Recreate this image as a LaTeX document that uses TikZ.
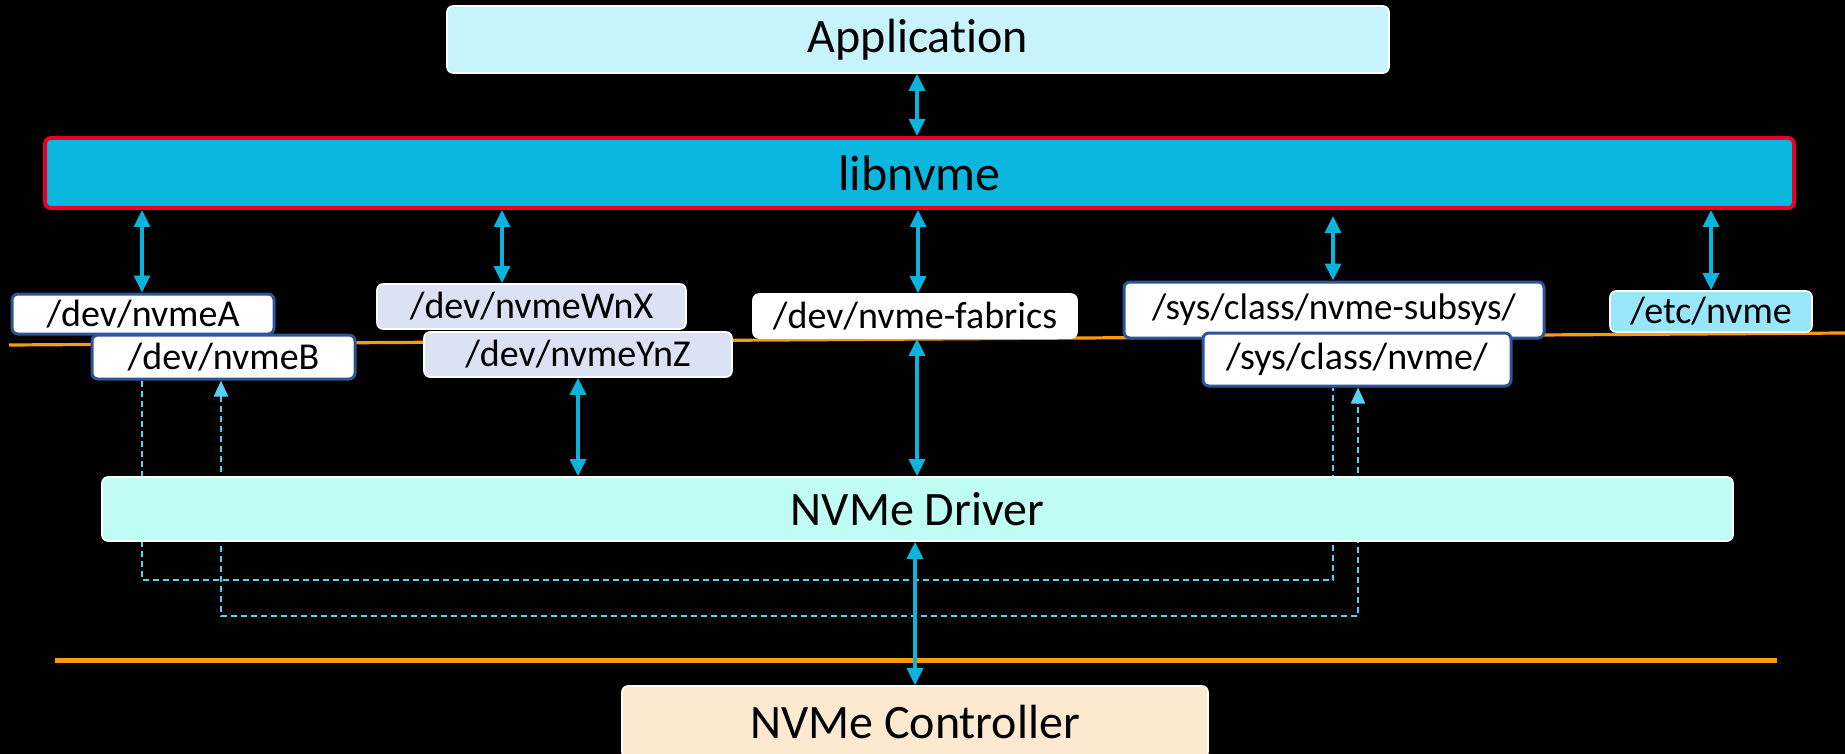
\documentclass[tikz,border=0pt]{standalone}
\usepackage{fontspec}
\setmainfont{Carlito}[Ligatures={NoCommon,NoContextual}]
\usetikzlibrary{arrows.meta}
\definecolor{appc}{HTML}{C8F2FC}
\definecolor{libc}{HTML}{0BB7DF}
\definecolor{libred}{HTML}{E8002A}
\definecolor{devgray}{HTML}{DAE2F3}
\definecolor{etcc}{HTML}{97E6FA}
\definecolor{drvc}{HTML}{BFFCF3}
\definecolor{ctrlc}{HTML}{FDE9CF}
\definecolor{bluebd}{HTML}{2F5597}
\definecolor{arrowc}{HTML}{0AB4DC}
\definecolor{dashc}{HTML}{55D1F2}
\definecolor{orangec}{HTML}{F99B0C}
\tikzset{
  box/.style={rounded corners=3pt, inner sep=0pt, text=black, font=\fontsize{24pt}{28pt}\selectfont},
  lbl/.style={box, font=\fontsize{19pt}{22pt}\selectfont},
  whitebd/.style={draw=white, line width=0.8pt},
  bluebox/.style={lbl, fill=white, draw=bluebd, line width=1.5pt},
  biarrow/.style={draw=arrowc, line width=1.7pt, {Triangle[length=8.5pt,width=8pt]}-{Triangle[length=8.5pt,width=8pt]}},
  dashline/.style={draw=dashc, line width=1.2pt, dash pattern=on 3pt off 2pt}
}
\begin{document}
\begin{tikzpicture}[x=0.5pt,y=-0.5pt]
\fill[black] (0,0) rectangle (1845,754);
\useasboundingbox (0,0) rectangle (1845,754);
% boundary lines
\draw[orangec, line width=1.6pt] (9,345) -- (1845,333);
\draw[orangec, line width=2.5pt] (55,660) -- (1777,660);
% top layers
\node[box, whitebd, fill=appc, minimum width=471pt, minimum height=33.5pt] (app) at (918,39.5) {Application};
\node[box, fill=libc, draw=libred, line width=2pt, minimum width=874.5pt, minimum height=35pt, font=\fontsize{25pt}{29pt}\selectfont] (lib) at (919.5,173) {libnvme};
% device / file nodes
\node[bluebox, minimum width=131pt, minimum height=20pt] (A) at (143,314) {/dev/nvmeA};
\node[bluebox, minimum width=131.5pt, minimum height=22pt] (B) at (223.5,357) {/dev/nvmeB};
\node[lbl, whitebd, fill=devgray, minimum width=154.5pt, minimum height=22.5pt] (WnX) at (531.5,306.5) {/dev/nvmeWnX};
\node[lbl, whitebd, fill=devgray, minimum width=154pt, minimum height=22.5pt] (YnZ) at (578,354.5) {/dev/nvmeYnZ};
\node[lbl, whitebd, fill=white, minimum width=162pt, minimum height=22pt] (fab) at (915,316) {/dev/nvme-fabrics};
\node[bluebox, minimum width=210pt, minimum height=28pt, font=\fontsize{18.5pt}{22pt}\selectfont] (subsys) at (1334,310) {/sys/class/nvme-subsys/};
\node[bluebox, minimum width=154pt, minimum height=26.5pt] (sysnvme) at (1357,359.5) {/sys/class/nvme/};
\node[lbl, whitebd, fill=etcc, minimum width=101pt, minimum height=20.5pt] (etc) at (1711,311.5) {/etc/nvme};
% dashed sysfs paths (behind the driver box)
\draw[dashline] (B.south -| 142,0) -- (142,580) -- (1333,580) -- (sysnvme.south -| 1333,0);
\draw[dashline, {Triangle[length=8pt,width=7pt]}-{Triangle[length=8pt,width=7pt]}] (B.south -| 221,0) -- (221,616) -- (1358,616) -- (sysnvme.south -| 1358,0);
% driver and controller
\node[box, whitebd, fill=drvc, minimum width=815.5pt, minimum height=32pt] (drv) at (917.5,509) {NVMe Driver};
\node[box, whitebd, fill=ctrlc, minimum width=293pt, minimum height=36pt] (ctrl) at (915,722) {NVMe Controller};
% arrows
\draw[biarrow] (app.south -| 917,0) -- (lib.north -| 917,0);
\draw[biarrow] (lib.south -| 142,0) -- (A.north -| 142,0);
\draw[biarrow] (lib.south -| 502,0) -- (WnX.north -| 502,0);
\draw[biarrow] (lib.south -| 918,0) -- (fab.north -| 918,0);
\draw[biarrow] ([yshift=-3pt]lib.south -| 1333,0) -- (subsys.north -| 1333,0);
\draw[biarrow] (lib.south -| 1711,0) -- (etc.north -| 1711,0);
\draw[biarrow] (YnZ.south -| 578,0) -- (drv.north -| 578,0);
\draw[biarrow] (fab.south -| 917,0) -- (drv.north -| 917,0);
\draw[biarrow] (drv.south -| 915,0) -- (ctrl.north -| 915,0);
\end{tikzpicture}
\end{document}
